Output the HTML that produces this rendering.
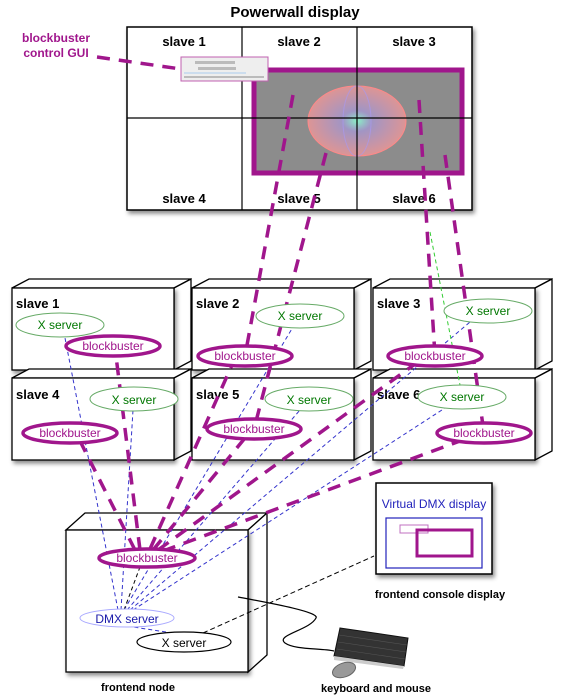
<!DOCTYPE html>
<html><head><meta charset="utf-8"><style>
html,body{margin:0;padding:0;background:#fff;}
svg{display:block;font-family:"Liberation Sans",Arial,sans-serif;}
</style></head><body>
<svg width="562" height="695" viewBox="0 0 562 695" xmlns="http://www.w3.org/2000/svg">
<defs>
<filter id="sh" x="-10%" y="-10%" width="130%" height="130%"><feDropShadow dx="2" dy="3" stdDeviation="2" flood-color="#000" flood-opacity="0.45"/></filter>
<radialGradient id="gl" cx="0.5" cy="0.5" r="0.5"><stop offset="0" stop-color="#8fc" stop-opacity="0.9"/><stop offset="0.3" stop-color="#a9d" stop-opacity="0.7"/><stop offset="1" stop-color="#f99" stop-opacity="0.7"/></radialGradient>
</defs>

<!-- Powerwall -->
<text x="295" y="17" font-size="15" font-weight="bold" text-anchor="middle">Powerwall display</text>
<rect x="127" y="27" width="345" height="183" fill="#fff" stroke="#000" stroke-width="1.5" filter="url(#sh)"/>
<rect x="254" y="70" width="208" height="103" fill="#8c8c8c" stroke="#a0168c" stroke-width="5"/>
<ellipse cx="357" cy="121" rx="49" ry="35" fill="url(#gl)" stroke="#f88" stroke-width="1"/>
<ellipse cx="357" cy="121" rx="14" ry="35" fill="none" stroke="#a9e" stroke-width="1" opacity="0.7"/>
<line x1="127" y1="118" x2="472" y2="118" stroke="#000" stroke-width="1.2"/>
<line x1="242" y1="27" x2="242" y2="210" stroke="#000" stroke-width="1.2"/>
<line x1="357" y1="27" x2="357" y2="210" stroke="#000" stroke-width="1.2"/>
<g font-size="13" font-weight="bold" text-anchor="middle">
<text x="184" y="46">slave 1</text><text x="299" y="46">slave 2</text><text x="414" y="46">slave 3</text>
<text x="184" y="203">slave 4</text><text x="299" y="203">slave 5</text><text x="414" y="203">slave 6</text>
</g>
<!-- GUI -->
<rect x="181" y="57" width="87" height="24" fill="#eee" stroke="#c060b0" stroke-width="1"/>
<g fill="#bbb"><rect x="195" y="61" width="40" height="3"/><rect x="198" y="67" width="38" height="3"/><rect x="184" y="72" width="62" height="2" fill="#cde"/><rect x="184" y="76" width="80" height="2"/></g>
<text x="56" y="42" font-size="12" font-weight="bold" fill="#a0168c" text-anchor="middle">blockbuster</text>
<text x="56" y="57" font-size="12" font-weight="bold" fill="#a0168c" text-anchor="middle">control GUI</text>

<!-- slave boxes -->
<g stroke="#000" stroke-width="1.3" fill="#fff">
<g id="b1">
<polygon points="12,288 29,279 191,279 174,288" />
<polygon points="174,288 191,279 191,361 174,370"/>
<rect x="12" y="288" width="162" height="82" filter="url(#sh)"/>
</g>
<use href="#b1" x="180"/><use href="#b1" x="361"/>
<use href="#b1" y="90"/><use href="#b1" x="180" y="90"/><use href="#b1" x="361" y="90"/>
</g>
<g font-size="13" font-weight="bold">
<text x="16" y="308">slave 1</text><text x="196" y="308">slave 2</text><text x="377" y="308">slave 3</text>
<text x="16" y="399">slave 4</text><text x="196" y="399">slave 5</text><text x="377" y="399">slave 6</text>
</g>

<!-- frontend node box -->
<g stroke="#000" stroke-width="1.3" fill="#fff">
<polygon points="66,530 85,513 267,513 248,530"/>
<polygon points="248,530 267,513 267,655 248,672"/>
<rect x="66" y="530" width="182" height="142" filter="url(#sh)"/>
</g>

<!-- blue thin dashed lines -->
<g stroke="#3333cc" stroke-width="1" stroke-dasharray="4,3" fill="none">
<line x1="118" y1="610" x2="65" y2="338"/>
<line x1="121" y1="610" x2="133" y2="410"/>
<line x1="124" y1="610" x2="293" y2="327"/>
<line x1="127" y1="610" x2="300" y2="410"/>
<line x1="130" y1="610" x2="470" y2="322"/>
<line x1="133" y1="610" x2="445" y2="408"/>
</g>
<line x1="124" y1="610" x2="140" y2="567" stroke="#000" stroke-dasharray="4,3"/>
<line x1="430" y1="232" x2="460" y2="385" stroke="#3c3" stroke-width="1" stroke-dasharray="4,3"/>
<line x1="166" y1="632" x2="120" y2="625" stroke="#3333cc" stroke-dasharray="4,3"/>

<!-- magenta dashed -->
<g stroke="#a0168c" stroke-width="3.5" stroke-dasharray="13,9" fill="none" stroke-linecap="butt">
<line x1="97" y1="57" x2="181" y2="69"/>
<line x1="293" y1="95" x2="245" y2="356"/>
<line x1="326" y1="153" x2="254" y2="429"/>
<line x1="419" y1="100" x2="435" y2="356"/>
<line x1="445" y1="155" x2="484" y2="433"/>
<line x1="135" y1="550" x2="80" y2="441"/>
<line x1="140" y1="550" x2="116" y2="356"/>
<line x1="150" y1="549" x2="232" y2="365"/>
<line x1="153" y1="550" x2="245" y2="438"/>
<line x1="158" y1="550" x2="415" y2="364"/>
<line x1="163" y1="551" x2="460" y2="441"/>
</g>

<!-- ellipses -->
<g font-size="12" text-anchor="middle">
<g fill="#fff" stroke="#6a6" stroke-width="1">
<ellipse cx="60" cy="325" rx="44" ry="12"/><ellipse cx="300" cy="316" rx="44" ry="12"/><ellipse cx="488" cy="311" rx="44" ry="12"/>
<ellipse cx="134" cy="399" rx="44" ry="12"/><ellipse cx="309" cy="399" rx="44" ry="12"/><ellipse cx="462" cy="397" rx="44" ry="12"/>
</g>
<g fill="#070">
<text x="60" y="329">X server</text><text x="300" y="320">X server</text><text x="488" y="315">X server</text>
<text x="134" y="404">X server</text><text x="309" y="404">X server</text><text x="462" y="401">X server</text>
</g>
<g fill="#fff" stroke="#a0168c" stroke-width="3.5">
<ellipse cx="113" cy="346" rx="47" ry="10"/><ellipse cx="245" cy="356" rx="47" ry="10"/><ellipse cx="435" cy="356" rx="47" ry="10"/>
<ellipse cx="70" cy="433" rx="47" ry="10"/><ellipse cx="254" cy="429" rx="47" ry="10"/><ellipse cx="484" cy="433" rx="47" ry="10"/>
<ellipse cx="147" cy="558" rx="48" ry="9"/>
</g>
<g fill="#a0168c">
<text x="113" y="350">blockbuster</text><text x="245" y="360">blockbuster</text><text x="435" y="360">blockbuster</text>
<text x="70" y="437">blockbuster</text><text x="254" y="433">blockbuster</text><text x="484" y="437">blockbuster</text>
<text x="147" y="562">blockbuster</text>
</g>
<ellipse cx="127" cy="618" rx="47" ry="9" fill="#fff" stroke="#aaf" stroke-width="1"/>
<text x="127" y="623" fill="#1a1aaa">DMX server</text>
<ellipse cx="184" cy="642" rx="47" ry="10" fill="#fff" stroke="#000" stroke-width="1.2"/>
<text x="184" y="647" fill="#000">X server</text>
</g>

<!-- console display -->
<line x1="203" y1="633" x2="374" y2="556" stroke="#000" stroke-dasharray="5,3"/>
<rect x="376" y="483" width="116" height="91" fill="#fff" stroke="#000" stroke-width="1.5" filter="url(#sh)"/>
<rect x="386" y="518" width="96" height="50" fill="none" stroke="#22b" stroke-width="1.2"/>
<rect x="400" y="525" width="28" height="8" fill="none" stroke="#c070c0" stroke-width="1"/>
<rect x="417" y="530" width="55" height="26" fill="none" stroke="#a0168c" stroke-width="3"/>
<text x="434" y="508" font-size="12" fill="#22b" text-anchor="middle">Virtual DMX display</text>
<text x="440" y="598" font-size="11" font-weight="bold" text-anchor="middle">frontend console display</text>

<!-- cable, keyboard, mouse -->
<path d="M238,597 C270,603 320,612 316,618 C310,630 275,635 285,643 C295,650 320,648 334,651" fill="none" stroke="#000" stroke-width="1.2"/>
<polygon points="340,628 408,638 404,666 334,656" fill="#333" stroke="#111"/>
<g stroke="#555" stroke-width="0.6">
<line x1="339" y1="635" x2="407" y2="645"/><line x1="338" y1="642" x2="406" y2="652"/><line x1="337" y1="649" x2="405" y2="659"/>
</g>
<polygon points="334,656 404,666 403,669 334,660" fill="#ccc"/>
<ellipse cx="344" cy="670" rx="12" ry="7" fill="#999" stroke="#666" transform="rotate(-20 344 670)"/>
<text x="138" y="691" font-size="11" font-weight="bold" text-anchor="middle">frontend node</text>
<text x="376" y="692" font-size="11" font-weight="bold" text-anchor="middle">keyboard and mouse</text>
</svg>
</body></html>
